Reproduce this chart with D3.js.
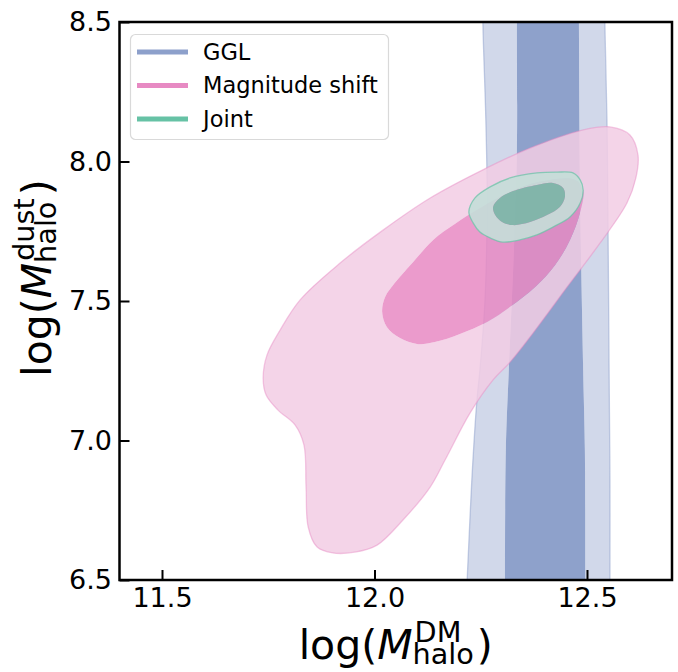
<!DOCTYPE html>
<html>
<head>
<meta charset="utf-8">
<script src="https://cdn.jsdelivr.net/npm/d3@7"></script>
<style>
  body { margin: 0; background: #fff; }
  svg { display: block; font-family: "DejaVu Sans", sans-serif; }
</style>
</head>
<body>
<svg width="678" height="672"></svg>
<script>
var xTicks = [11.5, 12.0, 12.5];
var yTicks = [6.5, 7.0, 7.5, 8.0, 8.5];
var names = ["GGL", "Magnitude shift", "Joint"];
var colors = ["#8da0cb", "#e78ac3", "#66c2a5"];

// GGL bands, edges read from top to bottom (they run off the plot)
var gglOuterLeft = [[12.255, 8.6], [12.255, 8.5], [12.262, 8.149], [12.265, 7.862], [12.260, 7.504], [12.248, 7.253], [12.241, 7.145], [12.229, 6.858], [12.218, 6.5], [12.214, 6.4]];
var gglOuterRight = [[12.542, 8.6], [12.542, 8.5], [12.547, 8.149], [12.549, 7.862], [12.552, 7.253], [12.554, 6.858], [12.554, 6.5], [12.554, 6.4]];
var gglInnerLeft = [[12.335, 8.6], [12.335, 8.5], [12.335, 8.041], [12.328, 7.683], [12.316, 7.253], [12.309, 6.966], [12.307, 6.5], [12.307, 6.4]];
var gglInnerRight = [[12.481, 8.6], [12.481, 8.5], [12.484, 7.862], [12.491, 7.253], [12.495, 6.966], [12.496, 6.5], [12.496, 6.4]];

// Magnitude shift contours
var magOuter = [[12.491, 8.113], [12.554, 8.124], [12.601, 8.095], [12.620, 8.023], [12.615, 7.941], [12.594, 7.851], [12.531, 7.708], [12.453, 7.550], [12.373, 7.385], [12.319, 7.281], [12.279, 7.217], [12.225, 7.099], [12.166, 6.930], [12.131, 6.833], [12.067, 6.715], [12.006, 6.625], [11.954, 6.600], [11.902, 6.597], [11.865, 6.618], [11.844, 6.690], [11.839, 6.833], [11.834, 6.984], [11.813, 7.056], [11.773, 7.109], [11.745, 7.163], [11.738, 7.224], [11.747, 7.306], [11.778, 7.396], [11.825, 7.504], [11.919, 7.636], [12.020, 7.754], [12.131, 7.869], [12.255, 7.970], [12.366, 8.048]];
var magInner = [[12.389, 7.927], [12.472, 7.934], [12.491, 7.898], [12.484, 7.819], [12.460, 7.719], [12.425, 7.629], [12.378, 7.550], [12.319, 7.479], [12.265, 7.425], [12.201, 7.382], [12.142, 7.353], [12.100, 7.346], [12.060, 7.367], [12.029, 7.407], [12.018, 7.461], [12.025, 7.514], [12.048, 7.565], [12.091, 7.640], [12.138, 7.719], [12.189, 7.776], [12.248, 7.833], [12.314, 7.887]];

// Joint contours
var jointOuter = [[12.222, 7.819], [12.236, 7.869], [12.272, 7.909], [12.319, 7.941], [12.382, 7.959], [12.429, 7.962], [12.467, 7.959], [12.484, 7.934], [12.491, 7.898], [12.484, 7.851], [12.460, 7.801], [12.420, 7.765], [12.382, 7.737], [12.342, 7.719], [12.302, 7.711], [12.272, 7.726], [12.248, 7.747], [12.232, 7.780]];
var jointInner = [[12.279, 7.837], [12.295, 7.869], [12.326, 7.894], [12.382, 7.916], [12.420, 7.923], [12.444, 7.905], [12.448, 7.873], [12.436, 7.837], [12.406, 7.808], [12.366, 7.783], [12.326, 7.772], [12.300, 7.783], [12.284, 7.808]];

var svg = d3.select("svg"),
    padL = 119.5, padR = 672, padT = 22, padB = 580;

var x = d3.scaleLinear().domain([11.4, 12.7]).range([padL, padR]);
var y = d3.scaleLinear().domain([6.5, 8.5]).range([padB, padT]);

svg.append("clipPath").attr("id", "plot")
  .append("rect").attr("x", padL).attr("y", padT)
  .attr("width", padR - padL).attr("height", padB - padT);

var ring = d3.line().x(function(d) { return x(d[0]); }).y(function(d) { return y(d[1]); })
  .curve(d3.curveCatmullRomClosed.alpha(0.5));

function band(l, r) { return l.concat(r.slice().reverse()); }

var g = svg.append("g").attr("clip-path", "url(#plot)");

function drawSeries(outer, inner, light, dark, col, op, edgeOp) {
  g.append("path")
    .attr("d", ring(outer) + ring(inner))
    .attr("fill-rule", "evenodd")
    .attr("fill", light).attr("fill-opacity", op);
  g.append("path")
    .attr("d", ring(inner))
    .attr("fill", dark).attr("fill-opacity", op);
  g.append("path")
    .attr("d", ring(outer))
    .attr("fill", "none").attr("stroke", col)
    .attr("stroke-opacity", edgeOp).attr("stroke-width", 1.3);
}

drawSeries(band(gglOuterLeft, gglOuterRight), band(gglInnerLeft, gglInnerRight), "#d1d8ea", "#8ea1cb", colors[0], 1, 0.5);
drawSeries(magOuter, magInner, "#f2cce4", "#e78ac3", colors[1], 0.85, 0.45);
drawSeries(jointOuter, jointInner, "#c4ded8", "#78b9a7", colors[2], 0.9, 0.7);

// axes, ticks pointing inward
var xAxis = svg.append("g")
  .attr("transform", "translate(0," + padB + ")")
  .call(d3.axisBottom(x).tickValues(xTicks).tickFormat(d3.format(".1f"))
    .tickSizeInner(-10).tickSizeOuter(0).tickPadding(7.5));
var yAxis = svg.append("g")
  .attr("transform", "translate(" + padL + ",0)")
  .call(d3.axisLeft(y).tickValues(yTicks).tickFormat(d3.format(".1f"))
    .tickSizeInner(-10).tickSizeOuter(0).tickPadding(7.5));

[xAxis, yAxis].forEach(function(a) {
  a.select(".domain").remove();
  a.selectAll(".tick line").attr("stroke", "#000").attr("stroke-width", 2);
  a.selectAll(".tick text").attr("font-size", 27).attr("fill", "#000")
    .attr("font-family", "DejaVu Sans");
});

svg.append("rect")
  .attr("x", padL).attr("y", padT)
  .attr("width", padR - padL).attr("height", padB - padT)
  .attr("fill", "none").attr("stroke", "#000").attr("stroke-width", 2.5);

// axis titles, matplotlib-style mathtext
function mathLabel(parent, sup, sub, size) {
  var t = parent.append("text").attr("font-size", size).attr("fill", "#000");
  t.append("tspan").text("log(");
  t.append("tspan").attr("font-style", "italic").text("M");
  var sp = t.append("tspan").attr("font-size", size * 0.7)
    .attr("dy", -0.42 * size).attr("dx", 0.05 * size).text(sup);
  var w1 = sp.node().getComputedTextLength();
  var sb = t.append("tspan").attr("font-size", size * 0.7)
    .attr("dy", 0.55 * size).attr("dx", -w1 - 0.05 * size).text(sub);
  var w2 = sb.node().getComputedTextLength();
  t.append("tspan").attr("dy", -0.13 * size).attr("dx", Math.max(0, w1 + 0.05 * size - w2) + 3).text(")");
  var bb = t.node().getBBox();
  t.attr("transform", "translate(" + (-bb.x - bb.width / 2) + ",0)");
}

mathLabel(svg.append("g").attr("transform", "translate(" + ((padL + padR) / 2) + ",659)"), "DM", "halo", 41);
mathLabel(svg.append("g").attr("transform", "translate(51,278) rotate(-90)"), "dust", "halo", 41);

// legend
var leg = svg.append("g");
leg.append("rect")
  .attr("x", 130.5).attr("y", 34.5).attr("width", 258).attr("height", 105).attr("rx", 5)
  .attr("fill", "#fff").attr("fill-opacity", 0.8).attr("stroke", "#d9d9d9").attr("stroke-width", 1.2);
var item = leg.selectAll(".item").data(names).enter().append("g")
  .attr("transform", function(d, i) { return "translate(0," + (52 + i * 33.5) + ")"; });
item.append("line")
  .attr("x1", 137).attr("x2", 188)
  .attr("stroke", function(d, i) { return colors[i]; }).attr("stroke-width", 5);
item.append("text")
  .attr("x", 203).attr("dy", "0.35em").attr("font-size", 22.5)
  .text(function(d) { return d; });
</script>
</body>
</html>
